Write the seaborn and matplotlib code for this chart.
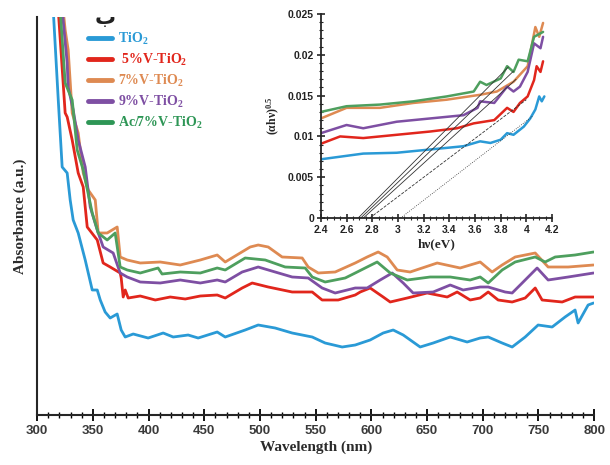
import numpy as np
import pandas as pd
import matplotlib
matplotlib.use("Agg")
import matplotlib.pyplot as plt
from matplotlib.ticker import MultipleLocator, NullLocator
from matplotlib.lines import Line2D
import seaborn as sns

# ---------------- data ----------------
labels = ["TiO$_\\mathbf{2}$", " 5%V-TiO$_\\mathbf{2}$", "7%V-TiO$_\\mathbf{2}$",
          "9%V-TiO$_\\mathbf{2}$", "Ac/7%V-TiO$_\\mathbf{2}$"]
colors = ["#2A9AD6", "#E1261C", "#DE8A52", "#7E4FA3", "#4E9F5E"]
legend_colors = ["#2A9AD6", "#E1261C", "#DE8A52", "#7E4FA3", "#2E9656"]

wl_tio2 = [314.4, 318.9, 322.4, 326.9, 329.6, 332.3, 336.8, 343.1, 349.4, 353.9, 356.6, 361.0,
           365.5, 371.8, 375.4, 379.0, 386.2, 399.6, 413.1, 422.1, 435.5, 444.5, 461.6, 468.8,
           486.7, 498.4, 513.6, 528.9, 546.9, 558.5, 573.8, 585.5, 598.9, 610.6, 619.6, 628.6,
           643.8, 655.5, 670.8, 686.0, 697.7, 704.9, 717.4, 726.4, 738.1, 749.7, 762.3, 773.9,
           782.9, 785.6, 794.6, 799.5]
abs_tio2 = [4.05, 3.15, 2.48, 2.42, 2.15, 1.95, 1.82, 1.55, 1.25, 1.25, 1.15, 1.03,
            0.97, 1.01, 0.85, 0.78, 0.81, 0.77, 0.82, 0.78, 0.80, 0.77, 0.83, 0.78,
            0.85, 0.90, 0.87, 0.82, 0.78, 0.72, 0.68, 0.70, 0.75, 0.82, 0.85, 0.80,
            0.68, 0.72, 0.78, 0.73, 0.77, 0.78, 0.72, 0.68, 0.78, 0.90, 0.88, 0.98,
            1.05, 0.92, 1.10, 1.12]

wl_v5 = [318.9, 323.3, 325.1, 326.9, 331.4, 336.8, 341.3, 344.9, 353.9, 359.2, 365.5, 374.5,
         375.4, 377.2, 379.0, 381.7, 392.5, 406.0, 419.4, 432.9, 446.4, 461.6, 468.8, 484.0,
         493.0, 507.4, 528.9, 546.9, 555.8, 570.2, 585.5, 590.0, 598.9, 610.6, 616.9, 632.2,
         650.1, 668.1, 677.0, 688.7, 697.7, 704.9, 713.8, 726.4, 738.1, 747.1, 753.3, 771.3,
         782.9, 799.5]
abs_v5 = [4.05, 3.32, 3.02, 2.98, 2.75, 2.42, 2.28, 1.88, 1.75, 1.52, 1.48, 1.42,
          1.37, 1.18, 1.25, 1.17, 1.19, 1.15, 1.18, 1.16, 1.19, 1.20, 1.17, 1.27,
          1.32, 1.28, 1.23, 1.23, 1.15, 1.15, 1.20, 1.23, 1.27, 1.18, 1.13, 1.17,
          1.22, 1.18, 1.23, 1.15, 1.17, 1.23, 1.15, 1.13, 1.17, 1.27, 1.15, 1.13,
          1.18, 1.18]

wl_v7 = [323.3, 325.1, 327.8, 331.4, 336.8, 341.3, 345.8, 352.1, 354.8, 362.8, 371.8, 374.5,
         380.8, 392.5, 410.4, 428.4, 446.4, 461.6, 468.8, 491.2, 498.4, 507.4, 519.9, 537.9,
         543.3, 552.3, 567.5, 585.5, 596.2, 606.1, 614.2, 623.2, 634.8, 659.1, 679.7, 697.7,
         708.4, 717.4, 729.1, 747.1, 758.7, 776.7, 799.5]
abs_v7 = [4.05, 3.85, 3.65, 3.02, 2.82, 2.42, 2.25, 2.15, 1.82, 1.82, 1.88, 1.58,
          1.55, 1.52, 1.53, 1.50, 1.55, 1.60, 1.53, 1.68, 1.70, 1.68, 1.58, 1.57,
          1.48, 1.42, 1.43, 1.52, 1.58, 1.63, 1.58, 1.45, 1.43, 1.52, 1.47, 1.53,
          1.43, 1.50, 1.58, 1.62, 1.48, 1.48, 1.50]

wl_v9 = [322.4, 326.9, 327.8, 332.3, 336.8, 343.1, 347.6, 353.9, 359.2, 368.2, 374.5, 380.8,
         392.5, 410.4, 428.4, 446.4, 461.6, 468.8, 484.0, 498.4, 513.6, 528.9, 543.3, 555.8,
         567.5, 585.5, 596.2, 607.9, 618.7, 628.6, 637.5, 655.5, 670.8, 682.4, 697.7, 704.9,
         720.1, 726.4, 735.4, 748.8, 758.7, 776.7, 799.5]
abs_v9 = [4.05, 3.52, 3.28, 3.05, 2.75, 2.48, 2.08, 1.85, 1.68, 1.62, 1.42, 1.38,
          1.33, 1.32, 1.35, 1.32, 1.35, 1.33, 1.43, 1.48, 1.43, 1.38, 1.37, 1.27,
          1.22, 1.27, 1.27, 1.35, 1.42, 1.32, 1.22, 1.23, 1.30, 1.25, 1.28, 1.28,
          1.23, 1.22, 1.32, 1.47, 1.35, 1.38, 1.42]

wl_ac = [320.6, 325.1, 331.4, 335.9, 341.3, 349.4, 354.8, 362.8, 370.0, 374.5, 380.8, 392.5,
         408.5, 412.1, 428.4, 446.4, 461.6, 468.8, 486.7, 504.7, 522.6, 540.6, 546.9, 558.5,
         576.5, 585.5, 596.2, 605.2, 616.9, 632.2, 652.8, 670.8, 688.7, 697.7, 704.9, 717.4,
         729.1, 747.1, 756.0, 765.0, 782.9, 799.5]
abs_ac = [4.05, 3.32, 3.15, 2.65, 2.45, 2.02, 1.82, 1.75, 1.82, 1.48, 1.45, 1.42,
          1.47, 1.41, 1.43, 1.42, 1.47, 1.45, 1.57, 1.55, 1.48, 1.47, 1.38, 1.33,
          1.37, 1.42, 1.48, 1.53, 1.42, 1.35, 1.38, 1.38, 1.35, 1.38, 1.32, 1.45,
          1.53, 1.58, 1.53, 1.58, 1.60, 1.63]

# inset: Tauc plot
ev_tio2 = [2.40, 2.73, 2.99, 3.25, 3.51, 3.64, 3.72, 3.80, 3.85, 3.90, 3.98, 4.03, 4.07, 4.10, 4.12, 4.14]
tauc_tio2 = [0.0072, 0.0079, 0.0080, 0.0084, 0.0088, 0.0094, 0.0092, 0.0096, 0.0104, 0.0102, 0.0112,
             0.0122, 0.0133, 0.0149, 0.0143, 0.0149]
ev_v5 = [2.40, 2.55, 2.73, 2.99, 3.25, 3.46, 3.59, 3.75, 3.85, 3.90, 3.95, 4.01, 4.06, 4.08, 4.11, 4.13]
tauc_v5 = [0.0091, 0.0100, 0.0098, 0.0102, 0.0106, 0.0110, 0.0116, 0.0120, 0.0135, 0.0130, 0.0141,
           0.0149, 0.0169, 0.0186, 0.0179, 0.0192]
ev_v7 = [2.40, 2.60, 2.86, 3.12, 3.38, 3.64, 3.77, 3.90, 4.01, 4.07, 4.10, 4.13]
tauc_v7 = [0.0122, 0.0135, 0.0135, 0.0141, 0.0145, 0.0151, 0.0155, 0.0167, 0.0186, 0.0234, 0.0222, 0.0239]
ev_v9 = [2.40, 2.60, 2.73, 2.99, 3.25, 3.51, 3.62, 3.64, 3.75, 3.85, 3.90, 3.95, 4.01, 4.06, 4.11, 4.13]
tauc_v9 = [0.0104, 0.0114, 0.0110, 0.0118, 0.0122, 0.0126, 0.0135, 0.0143, 0.0141, 0.0161, 0.0155,
           0.0161, 0.0179, 0.0214, 0.0208, 0.0222]
ev_ac = [2.40, 2.60, 2.86, 3.12, 3.38, 3.59, 3.64, 3.69, 3.80, 3.85, 3.90, 3.94, 4.01, 4.06, 4.13]
tauc_ac = [0.0130, 0.0137, 0.0139, 0.0143, 0.0149, 0.0155, 0.0167, 0.0163, 0.0171, 0.0186, 0.0179,
           0.0194, 0.0192, 0.0222, 0.0228]

# tangent (band-gap) lines: x-intercept and upper end point
tangent_eg = [3.02, 2.78, 2.71, 2.73, 2.69]
tangent_end_x = [4.05, 4.00, 3.90, 3.92, 3.86]
tangent_end_y = [0.0125, 0.0145, 0.0180, 0.0170, 0.0185]
tangent_styles = [":", "--", "-", "-", "-"]

# ---------------- styling ----------------
sns.set_style("ticks")
plt.rcParams["font.family"] = ["Liberation Sans", "DejaVu Sans"]
plt.rcParams["mathtext.fontset"] = "custom"
plt.rcParams["mathtext.rm"] = "Liberation Serif"
plt.rcParams["mathtext.bf"] = "Liberation Serif:bold"
plt.rcParams["mathtext.it"] = "Liberation Serif:italic:bold"

serif = ["Liberation Serif", "DejaVu Serif"]

fig = plt.figure(figsize=(6.1, 4.65), dpi=100)
ax = fig.add_axes([0.061, 0.1075, 0.913, 0.856])

main_wl = [wl_tio2, wl_v5, wl_v7, wl_v9, wl_ac]
main_abs = [abs_tio2, abs_v5, abs_v7, abs_v9, abs_ac]
names = ["TiO2", "5%V-TiO2", "7%V-TiO2", "9%V-TiO2", "Ac/7%V-TiO2"]
df = pd.concat([pd.DataFrame({"wl": w, "abs": a, "sample": n})
                for w, a, n in zip(main_wl, main_abs, names)], ignore_index=True)
palette = dict(zip(names, colors))
sns.lineplot(data=df, x="wl", y="abs", hue="sample", palette=palette, sort=False,
             estimator=None, lw=2.0, legend=False, ax=ax)

ax.set_xlim(300, 800)
ax.set_ylim(0, 3.98)
ax.xaxis.set_major_locator(MultipleLocator(50))
ax.xaxis.set_minor_locator(MultipleLocator(10))
ax.yaxis.set_major_locator(NullLocator())
ax.yaxis.set_minor_locator(NullLocator())
ax.tick_params(axis="x", which="major", direction="inout", length=8, width=1.3, color="black",
               labelsize=9.5, labelcolor="#3a3a3a", pad=3)
ax.tick_params(axis="x", which="minor", direction="inout", length=4, width=1.0, color="black")
for lab in ax.get_xticklabels():
    lab.set_fontweight("bold")
for s in ["top", "right"]:
    ax.spines[s].set_visible(False)
ax.spines["left"].set_linewidth(1.5)
ax.spines["bottom"].set_linewidth(1.5)
ax.set_xlabel("Wavelength (nm)", family=serif, fontweight="bold", fontsize=11, color="#2b2b2b", labelpad=3)
ax.set_ylabel("Absorbance (a.u.)", family=serif, fontweight="bold", fontsize=11, color="#2b2b2b", labelpad=7)

handles = [Line2D([0], [0], color=c, lw=3.5) for c in legend_colors]
leg = ax.legend(handles, labels, loc="upper left", bbox_to_anchor=(0.092, 0.965), frameon=False,
                handlelength=1.7, handletextpad=0.45, labelspacing=0.36, borderpad=0, borderaxespad=0,
                prop={"family": serif, "weight": "bold", "size": 10})
for t, c in zip(leg.get_texts(), legend_colors):
    t.set_color(c)

fig.text(0.172, 0.962, "ب", family=["DejaVu Sans"], fontweight="bold", fontsize=15,
         ha="center", va="center", color="#222222")

# ---------------- inset ----------------
ins = fig.add_axes([0.526, 0.531, 0.379, 0.439])
ins.patch.set_facecolor("white")
ev_all = [ev_tio2, ev_v5, ev_v7, ev_v9, ev_ac]
tauc_all = [tauc_tio2, tauc_v5, tauc_v7, tauc_v9, tauc_ac]
dfi = pd.concat([pd.DataFrame({"ev": e, "t": t, "sample": n})
                 for e, t, n in zip(ev_all, tauc_all, names)], ignore_index=True)
sns.lineplot(data=dfi, x="ev", y="t", hue="sample", palette=palette, sort=False,
             estimator=None, lw=1.8, legend=False, ax=ins)
for eg, ex, ey, ls in zip(tangent_eg, tangent_end_x, tangent_end_y, tangent_styles):
    sns.lineplot(x=[eg, ex], y=[0, ey], color="#333333", lw=0.6, linestyle=ls, ax=ins)

ins.set_xlim(2.4, 4.2)
ins.set_ylim(0, 0.025)
ins.xaxis.set_minor_locator(MultipleLocator(0.05))
ins.yaxis.set_minor_locator(MultipleLocator(0.001))
ins.set_xticks([2.4, 2.6, 2.8, 3.0, 3.2, 3.4, 3.6, 3.8, 4.0, 4.2])
ins.set_xticklabels(["2.4", "2.6", "2.8", "3", "3.2", "3.4", "3.6", "3.8", "4", "4.2"])
ins.set_yticks([0, 0.005, 0.01, 0.015, 0.02, 0.025])
ins.set_yticklabels(["0", "0.005", "0.01", "0.015", "0.02", "0.025"])
ins.tick_params(which="major", direction="inout", length=6, width=1.2, labelsize=7.5,
                labelcolor="#222222", pad=2)
ins.tick_params(which="minor", direction="inout", length=3, width=0.8)
for lab in ins.get_xticklabels() + ins.get_yticklabels():
    lab.set_fontweight("bold")
for s in ["top", "right"]:
    ins.spines[s].set_visible(False)
ins.spines["left"].set_linewidth(1.3)
ins.spines["bottom"].set_linewidth(1.3)
ins.set_xlabel("hν(eV)", family=serif, fontweight="bold", fontsize=9.5, labelpad=2)
ins.set_ylabel("(αhν)$^{\\mathbf{0.5}}$", family=serif, fontweight="bold", fontsize=8.5, labelpad=4)

fig.savefig("out.png", dpi=100)
